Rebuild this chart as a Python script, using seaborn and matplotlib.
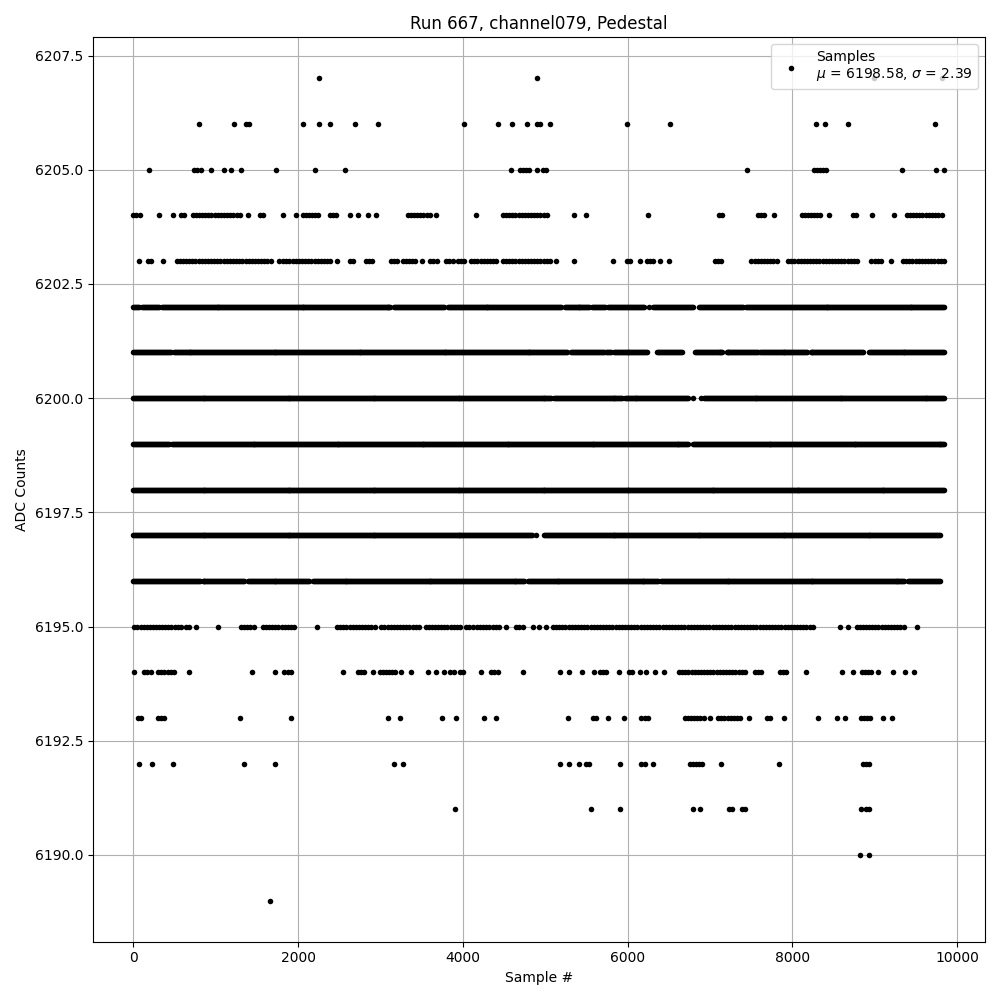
import numpy as np
import pandas as pd
import matplotlib
matplotlib.use("Agg")
import matplotlib.pyplot as plt
import seaborn as sns

# ADC levels and, for each, the sample ranges (start, end) where samples sit at that level
runs_6207 = [(2251, 2251), (4900, 4900), (8995, 8995), (9813, 9813)]
runs_6206 = [(794, 794), (1219, 1219), (1369, 1369), (1410, 1410), (2057, 2057), (2251, 2251),
             (2382, 2382), (2697, 2697), (2973, 2973), (4013, 4013), (4427, 4427), (4597, 4597),
             (4779, 4779), (4900, 4973), (5058, 5058), (5994, 5994), (6516, 6516), (8283, 8283),
             (8396, 8396), (8679, 8679), (9733, 9733)]
runs_6205 = [(186, 186), (741, 842), (940, 940), (1098, 1098), (1187, 1187), (1304, 1304),
             (1729, 1729), (2203, 2203), (2568, 2568), (4585, 4585), (4690, 4820), (4900, 4900),
             (4973, 5021), (7452, 7452), (8262, 8417), (9336, 9336), (9745, 9745), (9842, 9842)]
runs_6204 = [(0, 90), (308, 308), (478, 478), (579, 640), (721, 1328), (1397, 1397), (1539, 1600),
             (1815, 1815), (1977, 1977), (2057, 2139), (2171, 2280), (2382, 2470), (2632, 2632),
             (2725, 2725), (2847, 2847), (2949, 2949), (3333, 3617), (3678, 3678), (4159, 4159),
             (4487, 5054), (5346, 5346), (5500, 5500), (6249, 6249), (7112, 7161), (7585, 7667),
             (7780, 7780), (8113, 8343), (8448, 8448), (8740, 8800), (8974, 8974), (9234, 9234),
             (9388, 9590), (9623, 9850)]
runs_6203 = [(73, 73), (174, 215), (365, 365), (526, 1693), (1774, 1855), (1896, 2422), (2470, 2470),
             (2632, 2685), (2819, 2928), (3131, 3211), (3272, 3435), (3503, 3503), (3605, 3697),
             (3800, 3879), (3940, 4022), (4102, 4427), (4487, 5075), (5136, 5136), (5346, 5346),
             (5824, 5824), (5994, 6067), (6148, 6148), (6237, 6330), (6400, 6400), (6505, 6505),
             (7060, 7140), (7505, 7829), (7950, 8821), (8961, 9103), (9205, 9205), (9346, 9850)]
runs_6202 = [(0, 80), (110, 320), (350, 3130), (3170, 3780), (3820, 5197), (5237, 5541), (5573, 5731),
             (5763, 6197), (6257, 6257), (6310, 6796), (6869, 7404), (7444, 9850)]
runs_6201 = [(0, 240), (250, 460), (490, 5277), (5318, 5723), (5744, 5804), (5832, 6249), (6358, 6667),
             (6817, 7153), (7202, 7586), (7606, 8193), (8222, 8862), (8931, 9850)]
runs_6200 = [(0, 5085), (5110, 5940), (5965, 6740), (6796, 6796), (6898, 6898), (6930, 9850)]
runs_6199 = [(0, 440), (475, 6740), (6800, 9850)]
runs_6198 = [(0, 9850)]
runs_6197 = [(0, 4840), (4892, 4892), (4990, 9800)]
runs_6196 = [(0, 805), (840, 1350), (1390, 2140), (2180, 4755), (4790, 6375), (6410, 9370), (9410, 9800)]
runs_6195 = [(12, 316), (348, 599), (640, 701), (762, 762), (1025, 1025), (1308, 1491), (1572, 1956),
             (2227, 2227), (2470, 2584), (2625, 2949), (3010, 3394), (3435, 3496), (3548, 4001),
             (4042, 4123), (4171, 4468), (4529, 4529), (4650, 4739), (4852, 4852), (4924, 4924),
             (5014, 5014), (5095, 8274), (8578, 8578), (8679, 8679), (8781, 9388), (9517, 9517)]
runs_6194 = [(4, 4), (134, 215), (296, 377), (417, 519), (671, 671), (1438, 1438), (1717, 1717),
             (1835, 1924), (2543, 2543), (2725, 2827), (2908, 2908), (2989, 3192), (3252, 3252),
             (3374, 3374), (3576, 3576), (3678, 3678), (3771, 3771), (3840, 3840), (3892, 3892),
             (3961, 4022), (4224, 4224), (4346, 4447), (4730, 4730), (5176, 5176), (5285, 5285),
             (5452, 5452), (5593, 5593), (5662, 5751), (5897, 5897), (6018, 6067), (6148, 6148),
             (6230, 6230), (6330, 6330), (6444, 6444), (6626, 7424), (7546, 7647), (7849, 7930),
             (8169, 8169), (8606, 8606), (8740, 8740), (8842, 8964), (9044, 9044), (9226, 9226),
             (9368, 9368), (9481, 9481)]
runs_6193 = [(53, 106), (296, 405), (1292, 1292), (1912, 1912), (3098, 3098), (3240, 3240),
             (3747, 3747), (3921, 3921), (4256, 4256), (4407, 4407), (5273, 5273), (5577, 5638),
             (5763, 5763), (5957, 5957), (6169, 6249), (6695, 6938), (6999, 6999), (7100, 7383),
             (7476, 7476), (7695, 7768), (7902, 7902), (8315, 8315), (8538, 8538), (8639, 8639),
             (8830, 8964), (9105, 9105), (9214, 9214)]
runs_6192 = [(65, 65), (223, 223), (482, 482), (1340, 1340), (1717, 1717), (3163, 3163), (3272, 3272),
             (5176, 5176), (5290, 5290), (5411, 5411), (5500, 5549), (5905, 5905), (6169, 6230),
             (6310, 6310), (6756, 6917), (7132, 7132), (7841, 7841), (8862, 8943)]
runs_6191 = [(3904, 3904), (5553, 5553), (5905, 5905), (6800, 6800), (6880, 6880), (7230, 7230),
             (7265, 7265), (7395, 7395), (7430, 7430), (8830, 8830), (8900, 8900), (8930, 8930)]
runs_6190 = [(8821, 8821), (8934, 8934)]
runs_6189 = [(1657, 1657)]

levels = [6207, 6206, 6205, 6204, 6203, 6202, 6201, 6200, 6199, 6198, 6197, 6196,
          6195, 6194, 6193, 6192, 6191, 6190, 6189]
level_runs = [runs_6207, runs_6206, runs_6205, runs_6204, runs_6203, runs_6202, runs_6201,
              runs_6200, runs_6199, runs_6198, runs_6197, runs_6196, runs_6195, runs_6194,
              runs_6193, runs_6192, runs_6191, runs_6190, runs_6189]
dense_levels = [6196, 6197, 6198, 6199, 6200, 6201, 6202]

title = "Run 667, channel079, Pedestal"
legend_label = "Samples\n$\\mu$ = 6198.58, $\\sigma$ = 2.39"

xs, ys = [], []
for lvl, runs in zip(levels, level_runs):
    step = 12 if lvl in dense_levels else 38
    for a, b in runs:
        pts = np.arange(a, b + 1, step) if b > a else np.array([a])
        xs.extend(pts.tolist())
        ys.extend([lvl] * len(pts))
df = pd.DataFrame({"sample": xs, "adc": ys})

fig, ax = plt.subplots(figsize=(10, 10), dpi=100)
sns.scatterplot(data=df, x="sample", y="adc", color="black", s=16, linewidth=0,
                label=legend_label, ax=ax, zorder=2)
ax.grid(True)
ax.set_title(title)
ax.set_xlabel("Sample #")
ax.set_ylabel("ADC Counts")
ax.legend(loc="upper right")
fig.tight_layout()
fig.savefig("out.png", dpi=100)
